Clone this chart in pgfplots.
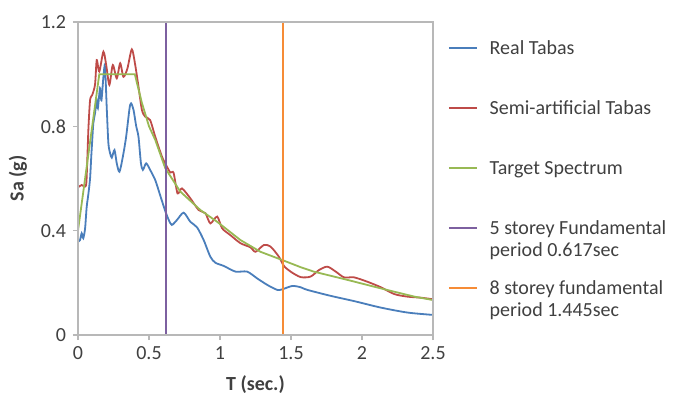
\documentclass[border=0pt]{standalone}
\usepackage{pgfplots}
\pgfplotsset{compat=1.18}
\usepackage{fontspec}
\setmainfont{Carlito}

\definecolor{realblue}{HTML}{4A7EBB}
\definecolor{semired}{HTML}{BE4B48}
\definecolor{targetgreen}{HTML}{98B954}
\definecolor{fivepurple}{HTML}{7D60A0}
\definecolor{eightorange}{HTML}{F68C36}
\definecolor{framegray}{HTML}{B8B8B8}
\definecolor{textgray}{HTML}{404040}

\begin{document}
\fontsize{20pt}{22pt}\selectfont
\begin{tikzpicture}
\useasboundingbox (0,0) rectangle (677pt,397pt);
\begin{axis}[
  at={(78pt,62pt)}, anchor=south west,
  width=355pt, height=313pt, scale only axis,
  xmin=0, xmax=2.5, ymin=0, ymax=1.2,
  xtick={0,0.5,1,1.5,2,2.5},
  ytick={0,0.4,0.8,1.2},
  axis lines=box,
  xtick pos=bottom, ytick pos=left, tick align=outside, major tick length=5pt,
  axis line style={framegray, line width=1.3pt},
  tick style={framegray, line width=1.3pt},
  /pgf/number format/assume math mode=true,
  /pgf/number format/fixed,
  ticklabel style={font=\fontsize{20pt}{22pt}\selectfont, text=textgray},
  xlabel={\textbf{T (sec.)}},
  ylabel={\textbf{Sa (g)}},
  every axis x label/.style={at={(axis description cs:0.5,-0.157)}, anchor=center,
    font=\fontsize{20pt}{22pt}\selectfont, text=textgray},
  every axis y label/.style={at={(axis description cs:-0.169,0.5)}, rotate=90, anchor=center,
    font=\fontsize{20pt}{22pt}\selectfont, text=textgray},
  legend style={at={(axis description cs:1,1)}, anchor=north west,
    xshift=15pt, yshift=-18.5pt, draw=none, fill=none, inner sep=0pt,
    row sep=41pt, column sep=12pt,
    nodes={inner sep=0pt, text height=14pt, text depth=5pt, anchor=base west,
      font=\fontsize{20pt}{22pt}\selectfont, text=textgray}},
  legend image code/.code={\draw[#1, line width=1.5pt] (0pt,6.5pt) -- (28pt,6.5pt);},
  % plot-area frame on all four sides
  after end axis/.code={
    \draw[framegray, line width=1.3pt] (rel axis cs:0,0) rectangle (rel axis cs:1,1);
  },
  clip=true,
]
% Real Tabas record
\addplot[realblue, line width=1.8pt, smooth, tension=0.45] coordinates {
 (0,0.358) (0.014,0.364) (0.026,0.39) (0.037,0.371) (0.05,0.409) (0.061,0.49)
 (0.073,0.54) (0.085,0.60) (0.093,0.68) (0.099,0.735) (0.108,0.812) (0.12,0.85)
 (0.132,0.90) (0.14,0.87) (0.155,0.946) (0.165,0.90) (0.179,0.99) (0.19,1.03)
 (0.203,0.863) (0.214,0.735) (0.226,0.697) (0.238,0.68) (0.257,0.709) (0.273,0.658)
 (0.292,0.626) (0.316,0.684) (0.339,0.76) (0.363,0.869) (0.374,0.888) (0.391,0.863)
 (0.41,0.80) (0.426,0.76) (0.443,0.66) (0.457,0.633) (0.48,0.658) (0.508,0.633)
 (0.544,0.594) (0.579,0.535) (0.614,0.476) (0.64,0.44) (0.661,0.422) (0.697,0.441)
 (0.744,0.469) (0.791,0.434) (0.838,0.413) (0.885,0.364) (0.932,0.30) (0.968,0.277)
 (1.026,0.265) (1.109,0.243) (1.191,0.243) (1.262,0.217) (1.333,0.192) (1.403,0.173)
 (1.438,0.175) (1.509,0.188) (1.568,0.183) (1.615,0.173) (1.78,0.15) (1.944,0.13)
 (2.133,0.105) (2.321,0.086) (2.5,0.077)
};
\addlegendentry{Real Tabas}
% Semi-artificial Tabas record
\addplot[semired, line width=1.8pt, smooth, tension=0.45] coordinates {
 (0,0.566) (0.026,0.575) (0.05,0.569) (0.06,0.594) (0.073,0.786) (0.085,0.90)
 (0.1,0.92) (0.12,0.96) (0.132,1.054) (0.15,1.01) (0.179,1.086) (0.2,1.03)
 (0.221,0.959) (0.245,1.035) (0.273,0.984) (0.297,1.042) (0.32,0.99) (0.348,1.022)
 (0.379,1.095) (0.403,1.035) (0.426,0.952) (0.45,0.863) (0.473,0.837) (0.508,0.824)
 (0.544,0.76) (0.591,0.684) (0.614,0.658) (0.65,0.623) (0.673,0.622) (0.701,0.543)
 (0.732,0.562) (0.791,0.524) (0.85,0.479) (0.897,0.467) (0.932,0.428) (0.98,0.454)
 (1.015,0.409) (1.073,0.383) (1.144,0.352) (1.215,0.336) (1.25,0.319) (1.309,0.345)
 (1.356,0.339) (1.415,0.30) (1.45,0.265) (1.497,0.243) (1.568,0.222) (1.638,0.224)
 (1.697,0.249) (1.756,0.262) (1.815,0.243) (1.874,0.221) (1.944,0.221) (2.039,0.204)
 (2.133,0.183) (2.227,0.157) (2.321,0.147) (2.415,0.143) (2.5,0.137)
};
\addlegendentry{Semi-artificial Tabas}
% Design target spectrum
\addplot[targetgreen, line width=1.8pt] coordinates {
 (0,0.40) (0.15,1.0) (0.40,1.0) (0.45,0.89) (0.5,0.80) (0.544,0.748) (0.614,0.64)
 (0.72,0.55) (0.862,0.479) (0.98,0.434) (1.144,0.364) (1.285,0.319) (1.45,0.285)
 (1.568,0.26) (1.66,0.243) (1.9,0.211) (2.13,0.179) (2.37,0.147) (2.5,0.134)
};
\addlegendentry{Target Spectrum}
% Fundamental periods
\addplot[fivepurple, line width=1.8pt] coordinates {(0.617,0) (0.617,1.2)};
\addlegendentry{\begin{tabular}[t]{@{}l@{}}5 storey Fundamental\\period 0.617sec\end{tabular}}
\addplot[eightorange, line width=1.8pt] coordinates {(1.445,0) (1.445,1.2)};
\addlegendentry{\begin{tabular}[t]{@{}l@{}}8 storey fundamental\\period 1.445sec\end{tabular}}
\end{axis}
\end{tikzpicture}
\end{document}
